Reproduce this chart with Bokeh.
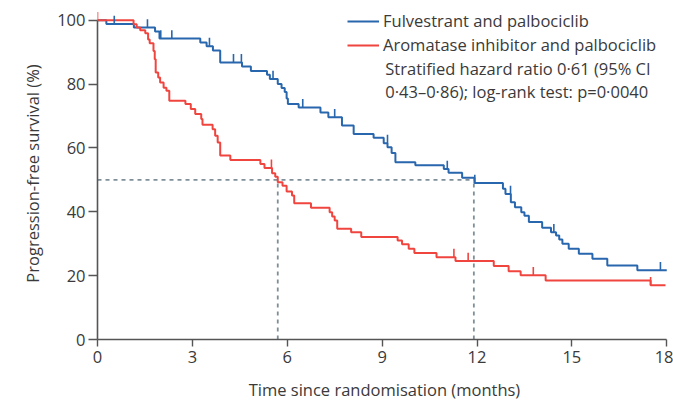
import numpy as np
from bokeh.plotting import figure
from bokeh.models import Range1d, FixedTicker, Legend, LegendItem, Label
from bokeh.embed import file_html
from bokeh.resources import INLINE

# ---- data ----
series_names = ["Fulvestrant and palbociclib", "Aromatase inhibitor and palbociclib"]

fulv_time = [0, 0.28, 1.15, 1.82, 1.96, 3.25, 3.45, 3.65, 3.88, 4.57, 4.85, 5.36, 5.45,
             5.70, 5.82, 5.92, 5.98, 6.02, 6.36, 7.05, 7.30, 7.73, 8.10, 8.73, 9.05, 9.17,
             9.30, 9.42, 10.05, 10.95, 11.10, 11.53, 11.92, 12.82, 12.90, 13.07, 13.20,
             13.40, 13.50, 13.64, 14.06, 14.34, 14.50, 14.60, 14.70, 14.90, 15.22, 15.65,
             16.12, 17.07]
fulv_surv = [100, 98.8, 97.7, 96.5, 94.3, 93.0, 91.9, 90.5, 86.8, 85.5, 84.1, 82.9, 81.6,
             80.0, 78.8, 77.5, 75.5, 73.8, 72.7, 71.1, 69.6, 67.0, 64.4, 63.2, 61.5, 60.2,
             58.4, 55.5, 54.6, 53.4, 52.2, 50.7, 49.0, 47.2, 45.6, 43.0, 41.4,
             39.9, 38.8, 36.8, 35.0, 33.6, 32.6, 31.3, 30.0, 28.4, 26.9, 25.3,
             23.2, 21.7]
fulv_end = 18.0
fulv_cens_time = [0.53, 1.58, 2.00, 2.35, 3.54, 4.30, 4.55, 5.55, 6.49, 7.50, 9.17, 11.06,
                  11.93, 13.06, 14.43, 17.80]
fulv_cens_surv = [98.8, 97.7, 94.3, 94.3, 91.9, 86.8, 86.8, 81.6, 72.7, 69.6, 61.5, 53.4,
                  49.0, 45.6, 33.6, 21.7]

ai_time = [0, 1.14, 1.24, 1.35, 1.51, 1.60, 1.65, 1.77, 1.81, 1.84, 1.92, 1.98, 2.09, 2.18,
           2.27, 2.78, 2.95, 3.09, 3.28, 3.32, 3.64, 3.72, 3.80, 3.88, 4.20, 5.15, 5.28,
           5.52, 5.62, 5.70, 5.85, 5.98, 6.15, 6.22, 6.75, 7.34, 7.42, 7.50, 7.58, 8.02,
           8.34, 9.49, 9.63, 9.84, 10.02, 10.72, 11.32, 12.53, 13.00, 13.38, 14.17, 17.49]
ai_surv = [100, 98.75, 97.7, 96.9, 95.9, 94.0, 92.8, 90.4, 87.8, 83.6, 82.1, 80.5, 78.9, 77.9,
           74.8, 73.75, 72.2, 70.6, 69.1, 67.3, 65.9, 63.8, 61.75, 57.6, 56.25, 55.0, 53.75,
           52.1, 51.0, 49.25, 48.2, 46.4, 45.1, 42.7, 41.25, 39.9, 38.5, 37.3, 34.7, 33.6,
           32.1, 31.0, 29.8, 28.4, 27.1, 25.8, 24.6, 23.0, 21.4, 20.1, 18.5, 17.0]
ai_end = 17.96
ai_cens_time = [0.0, 5.50, 11.27, 11.72, 13.78, 17.49]
ai_cens_surv = [100, 53.75, 25.8, 24.6, 20.1, 17.0]

median_fulv = 11.9
median_ai = 5.7
median_level = 50

x_ticks = [0, 3, 6, 9, 12, 15, 18]
y_ticks = [0, 20, 40, 60, 80, 100]
stats_lines = ["Stratified hazard ratio 0\u00b761 (95% CI",
               "0\u00b743\u20130\u00b786); log-rank test: p=0\u00b70040"]

BLUE = "#2866ad"
RED = "#f0453f"
DASH = "#7f8f99"
FONT = "Open Sans"
FS = "16.5px"
TXT = "#3a3a3a"

p = figure(width=673, height=404, output_backend="svg", toolbar_location=None,
           x_range=Range1d(0, 18.15), y_range=Range1d(0, 104),
           min_border_left=97, min_border_right=2, min_border_top=7, min_border_bottom=65)
p.background_fill_color = "white"
p.border_fill_color = "white"
p.outline_line_color = None
p.grid.visible = False

# median reference lines
p.segment(x0=[0, median_ai, median_fulv], y0=[median_level, 0, 0],
          x1=[median_fulv, median_ai, median_fulv], y1=[median_level] * 3,
          line_color=DASH, line_width=1.8, line_dash="4 4")

def km(times, surv, end):
    return list(times) + [end], list(surv) + [surv[-1]]

fx, fy = km(fulv_time, fulv_surv, fulv_end)
ax_, ay = km(ai_time, ai_surv, ai_end)
r_f = p.step(fx, fy, mode="after", line_color=BLUE, line_width=2)
r_a = p.step(ax_, ay, mode="after", line_color=RED, line_width=2)

tick_len = 2.6
p.segment(x0=fulv_cens_time, y0=fulv_cens_surv, x1=fulv_cens_time,
          y1=list(np.array(fulv_cens_surv) + tick_len), line_color=BLUE, line_width=1.6)
p.segment(x0=ai_cens_time, y0=ai_cens_surv, x1=ai_cens_time,
          y1=list(np.array(ai_cens_surv) + tick_len), line_color=RED, line_width=1.6)

# axes
p.xaxis.ticker = FixedTicker(ticks=x_ticks)
p.yaxis.ticker = FixedTicker(ticks=y_ticks)
p.xaxis.bounds = (0, 18)
p.yaxis.bounds = (0, 100)
p.xaxis.axis_label = "Time since randomisation (months)"
p.yaxis.axis_label = "Progression-free survival (%)"
for ax in (p.xaxis, p.yaxis):
    ax.axis_line_color = "#555555"
    ax.axis_line_width = 1.6
    ax.major_tick_line_color = "#555555"
    ax.major_tick_line_width = 1.4
    ax.major_tick_in = 0
    ax.minor_tick_line_color = None
    ax.major_label_text_font = FONT
    ax.major_label_text_font_size = FS
    ax.major_label_text_color = TXT
    ax.axis_label_text_font = FONT
    ax.axis_label_text_font_size = FS
    ax.axis_label_text_font_style = "normal"
    ax.axis_label_text_color = TXT
p.xaxis.major_tick_out = 7
p.yaxis.major_tick_out = 9
p.xaxis.major_label_standoff = 4
p.yaxis.major_label_standoff = 3
p.xaxis.axis_label_standoff = 12
p.yaxis.axis_label_standoff = 10

legend = Legend(items=[LegendItem(label=series_names[0], renderers=[r_f]),
                       LegendItem(label=series_names[1], renderers=[r_a])],
                location=(250, 283), orientation="vertical")
legend.background_fill_alpha = 0
legend.border_line_alpha = 0
legend.padding = 0
legend.margin = 0
legend.spacing = 1
legend.glyph_width = 32
legend.glyph_height = 20
legend.label_height = 20
legend.label_standoff = 4
legend.label_text_font = FONT
legend.label_text_font_size = FS
legend.label_text_color = TXT
p.add_layout(legend)

for i, line in enumerate(stats_lines):
    p.add_layout(Label(x=9.1, y=84.95 - i * 7.3, text=line, text_font=FONT,
                       text_font_size=FS, text_color=TXT, text_baseline="middle"))

open("out.html", "w").write(file_html(p, INLINE))
